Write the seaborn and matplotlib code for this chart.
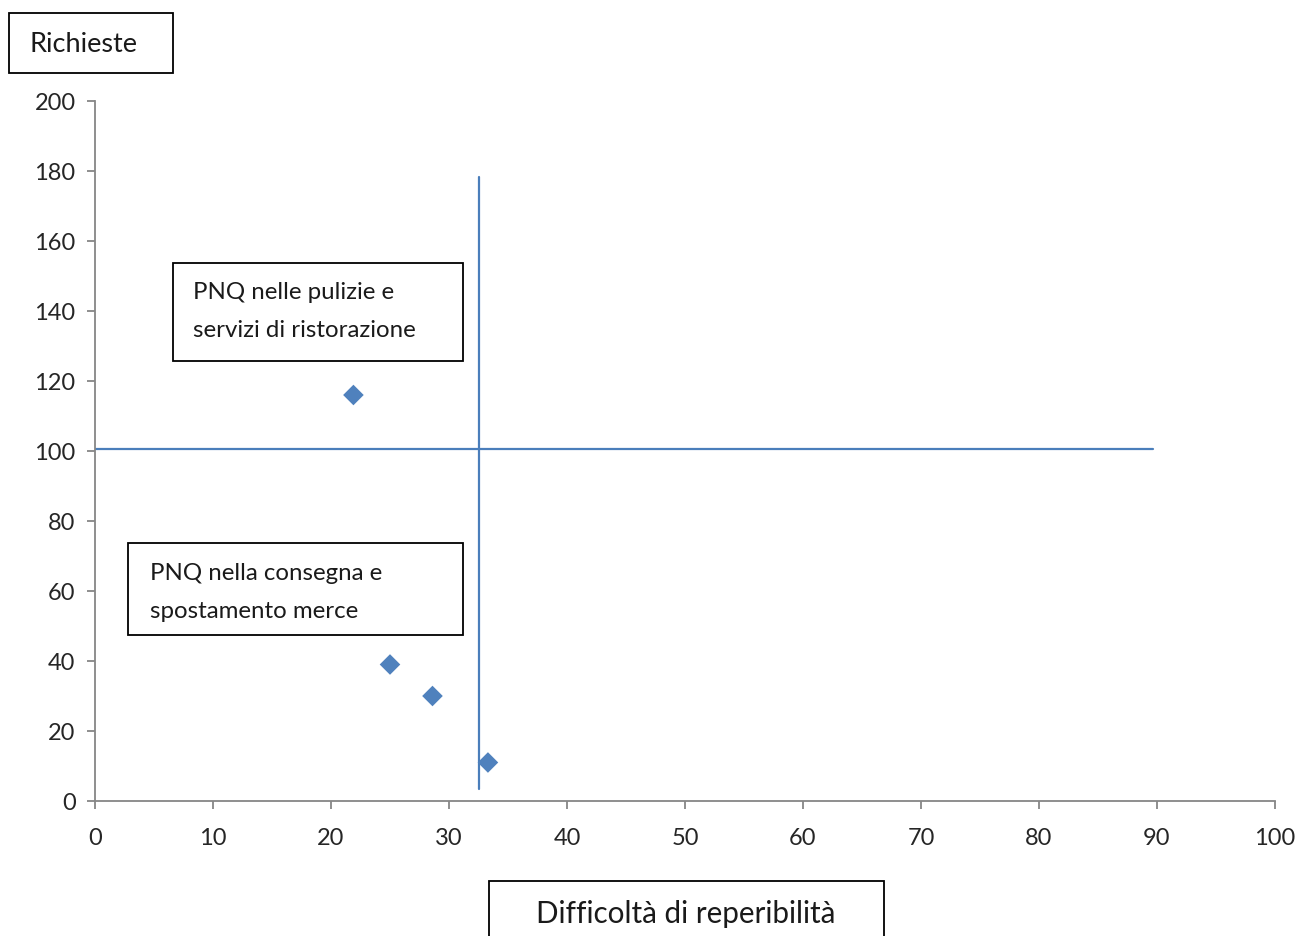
import matplotlib
matplotlib.use("Agg")
import matplotlib.pyplot as plt
from matplotlib.patches import Rectangle
import seaborn as sns
import pandas as pd

# Data
difficolta = [21.9, 25.0, 28.6, 33.3]
richieste = [116, 39, 30, 11]
x_ticks = [0, 10, 20, 30, 40, 50, 60, 70, 80, 90, 100]
y_ticks = [0, 20, 40, 60, 80, 100, 120, 140, 160, 180, 200]
vline_x = 32.5
vline_range = [3.4, 178.3]
hline_y = 100.6
hline_range = [0, 89.7]
x_title = "Difficoltà di reperibilità"
y_title = "Richieste"
label_top = "PNQ nelle pulizie e\nservizi di ristorazione"
label_bottom = "PNQ nella consegna e\nspostamento merce"

sns.set_theme(style="white")
plt.rcParams['font.family'] = ['Lato', 'DejaVu Sans']

W, H = 1299, 937
fig = plt.figure(figsize=(W / 100, H / 100), dpi=100)
ax = fig.add_axes([95 / W, 1 - 802 / H, (1275 - 95) / W, (802 - 102) / H])

df = pd.DataFrame({"x": difficolta, "y": richieste})
sns.scatterplot(data=df, x="x", y="y", marker="D", s=110, color="#4F81BD",
                edgecolor="none", ax=ax, zorder=3)

ax.plot([vline_x, vline_x], vline_range, color="#4A7EBB", lw=1.6, zorder=2)
ax.plot(hline_range, [hline_y, hline_y], color="#4A7EBB", lw=1.6, zorder=2)

ax.set_xlim(0, 100)
ax.set_ylim(0, 200)
ax.set_xticks(x_ticks)
ax.set_yticks(y_ticks)
ax.set_xlabel("")
ax.set_ylabel("")
for sp in ["top", "right"]:
    ax.spines[sp].set_visible(False)
for sp in ["left", "bottom"]:
    ax.spines[sp].set_color("#868686")
    ax.spines[sp].set_linewidth(1.3)
ax.tick_params(axis="both", which="major", direction="out", length=6, width=1.3,
               color="#868686", labelsize=17, labelcolor="#262626",
               bottom=True, left=True)
ax.tick_params(axis="y", pad=8)
ax.tick_params(axis="x", pad=13)
ax.grid(False)


def fx(px):
    return px / W


def fy(py):
    return 1 - py / H


def box(x0, y0, x1, y1):
    fig.add_artist(Rectangle((fx(x0), fy(y1)), fx(x1) - fx(x0), fy(y0) - fy(y1),
                             transform=fig.transFigure, fill=False,
                             edgecolor="black", lw=1.3, zorder=5))


box(9, 14, 173, 74)
fig.text(fx(30), fy(45), y_title, fontsize=19.5, ha="left", va="center", color="#1a1a1a")

box(489, 882, 884, 945)
fig.text(fx(686), fy(914), x_title, fontsize=21.3, ha="center", va="center", color="#1a1a1a")

box(173, 264, 463, 362)
fig.text(fx(193), fy(312), label_top, fontsize=17.3, ha="left", va="center",
         linespacing=2.0, color="#1a1a1a")

box(128, 544, 463, 636)
fig.text(fx(150), fy(592), label_bottom, fontsize=17.3, ha="left", va="center",
         linespacing=2.0, color="#1a1a1a")

fig.savefig("out.png", dpi=100, facecolor="white")
